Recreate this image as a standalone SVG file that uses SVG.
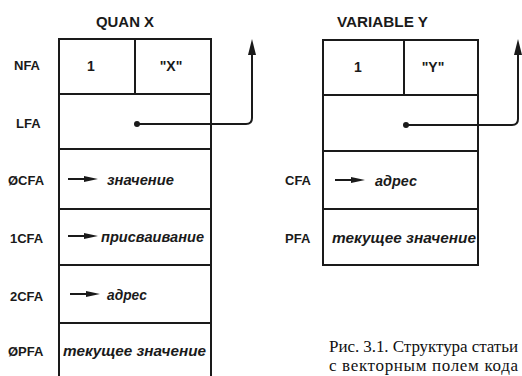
<svg xmlns="http://www.w3.org/2000/svg" width="522" height="376" viewBox="0 0 522 376">
<defs>
<style>
.box{fill:none;stroke:#1a1a1a;stroke-width:2}
.ln{fill:none;stroke:#1a1a1a;stroke-width:2}
.lbl{font-family:"Liberation Sans",Arial,sans-serif;font-weight:bold;font-size:13px;fill:#1a1a1a}
.hd{font-family:"Liberation Sans",Arial,sans-serif;font-weight:bold;font-size:14px;fill:#1a1a1a}
.val{font-family:"Liberation Sans",Arial,sans-serif;font-weight:bold;font-size:14px;fill:#1a1a1a}
.it{font-family:"Liberation Sans",Arial,sans-serif;font-weight:bold;font-style:italic;font-size:14px;fill:#1a1a1a}
.cap{font-family:"Liberation Serif","Times New Roman",serif;font-size:17px;fill:#111}
.sa{fill:none;stroke:#1a1a1a;stroke-width:2}
</style>
<marker id="big" viewBox="0 0 16 8" refX="2" refY="4" markerWidth="16" markerHeight="8" markerUnits="userSpaceOnUse" orient="auto">
<path d="M0,0 L16,4 L0,8 Z" fill="#1a1a1a"/>
</marker>
<marker id="small" viewBox="0 0 14 6" refX="2" refY="3" markerWidth="14" markerHeight="6" markerUnits="userSpaceOnUse" orient="auto">
<path d="M0,0 L14,3 L0,6 Z" fill="#1a1a1a"/>
</marker>
</defs>
<rect width="522" height="376" fill="#fff"/>

<g id="quan-x">
<text class="hd" x="96" y="27" textLength="58" lengthAdjust="spacingAndGlyphs">QUAN X</text>
<path class="box" d="M59,380 V39 H211 V380 M59,94 H211 M135,39 V94 M59,149 H211 M59,209 H211 M59,265 H211 M59,323 H211"/>
<text class="lbl" x="14" y="70">NFA</text>
<text class="lbl" x="16" y="128">LFA</text>
<text class="lbl" x="8" y="185">ØCFA</text>
<text class="lbl" x="10" y="243">1CFA</text>
<text class="lbl" x="10" y="301">2CFA</text>
<text class="lbl" x="8" y="356">ØPFA</text>
<text class="val" x="91" y="71" text-anchor="middle">1</text>
<text class="val" x="171" y="71" text-anchor="middle">"X"</text>
<path class="sa" d="M68,179 H86" marker-end="url(#small)"/>
<text class="it" x="107" y="185" textLength="67" lengthAdjust="spacingAndGlyphs">значение</text>
<path class="sa" d="M68,236 H86" marker-end="url(#small)"/>
<text class="it" x="101" y="242" textLength="103" lengthAdjust="spacingAndGlyphs">присваивание</text>
<path class="sa" d="M70,294 H88" marker-end="url(#small)"/>
<text class="it" x="107" y="300" textLength="40" lengthAdjust="spacingAndGlyphs">адрес</text>
<text class="it" x="63" y="356" textLength="143" lengthAdjust="spacingAndGlyphs">текущее значение</text>
</g>

<g id="variable-y">
<text class="hd" x="337" y="27" textLength="91" lengthAdjust="spacingAndGlyphs">VARIABLE Y</text>
<path class="box" d="M323,40 H478 V265 H323 Z M323,95 H478 M404,40 V95 M323,151 H478 M323,209 H478"/>
<text class="lbl" x="285" y="185">CFA</text>
<text class="lbl" x="285" y="243">PFA</text>
<text class="val" x="358" y="72" text-anchor="middle">1</text>
<text class="val" x="433" y="72" text-anchor="middle">"Y"</text>
<path class="sa" d="M335,180 H353" marker-end="url(#small)"/>
<text class="it" x="375" y="186" textLength="42" lengthAdjust="spacingAndGlyphs">адрес</text>
<text class="it" x="332" y="243" textLength="144" lengthAdjust="spacingAndGlyphs">текущее значение</text>
</g>

<g id="connectors">
<circle cx="137" cy="124" r="3" fill="#1a1a1a"/>
<path class="ln" d="M137,124 H246 Q252,124 252,118 V53" marker-end="url(#big)"/>
<circle cx="406" cy="125" r="3" fill="#1a1a1a"/>
<path class="ln" d="M406,125 H512 Q518,125 518,119 V53" marker-end="url(#big)"/>
</g>

<g id="caption">
<text class="cap" x="329" y="352" textLength="189" lengthAdjust="spacing">Рис. 3.1. Структура статьи</text>
<text class="cap" x="329" y="371" textLength="189" lengthAdjust="spacing">с векторным полем кода</text>
</g>
</svg>
